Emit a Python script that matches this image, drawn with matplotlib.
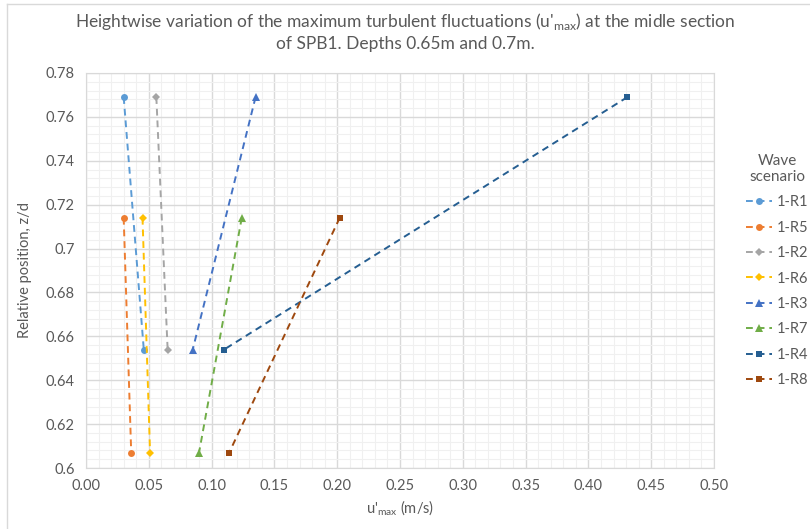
import matplotlib

matplotlib.use("Agg")
import matplotlib.pyplot as plt
from matplotlib.lines import Line2D
from matplotlib.ticker import MultipleLocator, FuncFormatter

plt.rcParams["font.family"] = ["Lato", "DejaVu Sans"]

# u'max (m/s) at the upper and lower measuring heights for each wave scenario
scenarios = ["1-R1", "1-R5", "1-R2", "1-R6", "1-R3", "1-R7", "1-R4", "1-R8"]
u_max = [
    [0.030, 0.046],
    [0.030, 0.036],
    [0.056, 0.065],
    [0.045, 0.051],
    [0.135, 0.085],
    [0.124, 0.090],
    [0.431, 0.110],
    [0.202, 0.114],
]
z_d = [
    [0.769, 0.654],
    [0.714, 0.607],
    [0.769, 0.654],
    [0.714, 0.607],
    [0.769, 0.654],
    [0.714, 0.607],
    [0.769, 0.654],
    [0.714, 0.607],
]
colors = ["#5B9BD5", "#ED7D31", "#A5A5A5", "#FFC000",
          "#4472C4", "#70AD47", "#255E91", "#9E480E"]
markers = ["o", "o", "D", "D", "^", "^", "s", "s"]
msizes = [5, 5, 4, 4, 5.5, 5.5, 4.5, 4.5]

GRID_MAJOR = "#D9D9D9"
GRID_MINOR = "#F0F0F0"
TEXT = "#595959"

fig = plt.figure(figsize=(8.1, 5.29), dpi=100)
ax = fig.add_axes([86 / 810, 1 - 468 / 529, 628 / 810, 395 / 529])

for name, x, y, c, m, ms in zip(scenarios, u_max, z_d, colors, markers, msizes):
    ax.plot(x, y, linestyle=(0, (3.5, 2.5)), linewidth=1.4, color=c,
            marker=m, markersize=ms, markeredgewidth=0, label=name)

ax.set_xlim(0, 0.5)
ax.set_ylim(0.6, 0.78)
ax.xaxis.set_major_locator(MultipleLocator(0.05))
ax.xaxis.set_minor_locator(MultipleLocator(0.01))
ax.yaxis.set_major_locator(MultipleLocator(0.02))
ax.yaxis.set_minor_locator(MultipleLocator(0.004))
ax.xaxis.set_major_formatter(FuncFormatter(lambda v, p: f"{v:.2f}"))
ax.yaxis.set_major_formatter(FuncFormatter(lambda v, p: f"{v:.2f}".rstrip("0")))

ax.grid(which="major", color=GRID_MAJOR, linewidth=1.0)
ax.grid(which="minor", color=GRID_MINOR, linewidth=0.8)
ax.set_axisbelow(True)
for s in ax.spines.values():
    s.set_color(GRID_MAJOR)
ax.tick_params(which="both", length=0, labelsize=10.5, colors=TEXT, pad=8)

ax.set_xlabel("u'$_{\\mathregular{max}}$ (m/s)", fontsize=10.5, color=TEXT, labelpad=4)
ax.set_ylabel("Relative position, z/d", fontsize=10.5, color=TEXT, labelpad=10)

fig.text(0.5, 1 - 22 / 529,
         "Heightwise variation of the maximum turbulent fluctuations "
         "(u'$_{\\mathregular{max}}$) at the midle section",
         ha="center", va="center", fontsize=12.5, color=TEXT)
fig.text(0.5, 1 - 44 / 529, "of SPB1. Depths 0.65m and 0.7m.",
         ha="center", va="center", fontsize=12.5, color=TEXT)

leg = ax.legend(loc="center left", bbox_to_anchor=(1.03, 0.5), frameon=False,
                title="Wave\nscenario", fontsize=10.5, handlelength=1.8,
                labelspacing=0.78, handletextpad=0.3, alignment="center")
leg.get_title().set_color(TEXT)
leg.get_title().set_fontsize(11)
leg.get_title().set_multialignment("center")
for t in leg.get_texts():
    t.set_color(TEXT)

# chart-area outline
fig.add_artist(Line2D([7 / 810, 1], [1 - 4 / 529, 1 - 4 / 529],
                      color="#D9D9D9", linewidth=1, transform=fig.transFigure))
fig.add_artist(Line2D([7 / 810, 7 / 810], [0, 1 - 4 / 529],
                      color="#D9D9D9", linewidth=1, transform=fig.transFigure))

fig.savefig("out.png", dpi=100)
